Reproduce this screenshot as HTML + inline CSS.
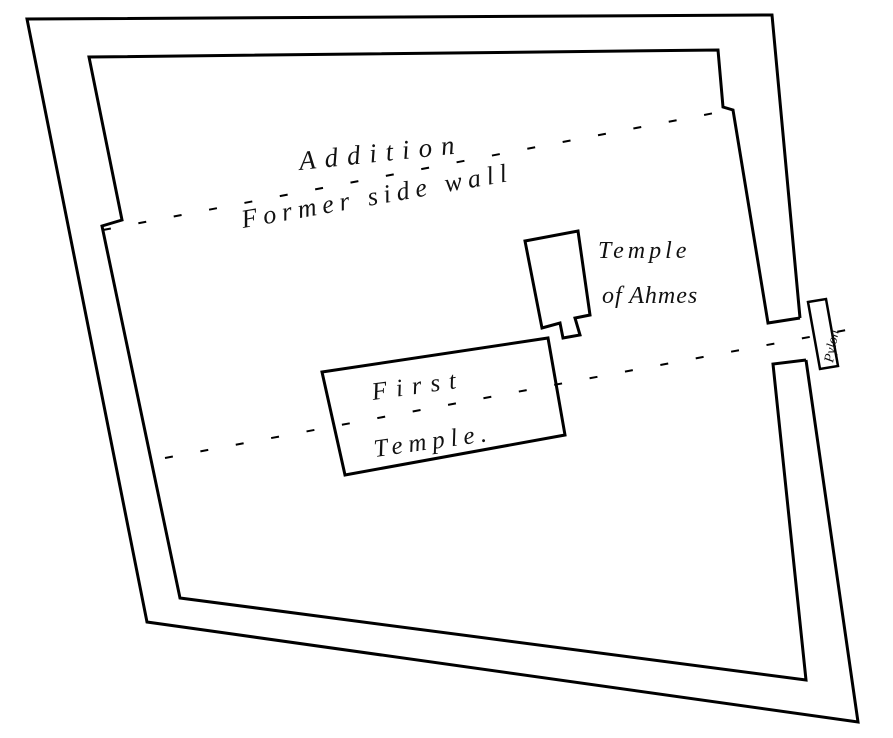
<!DOCTYPE html>
<html><head><style>
html,body{margin:0;padding:0;background:#fff;}
svg{display:block}
text{font-family:"Liberation Serif",serif;font-style:italic;fill:#111;}
</style></head><body>
<svg width="893" height="738" viewBox="0 0 893 738" xmlns="http://www.w3.org/2000/svg">
<g fill="none" stroke="#000" stroke-width="3" stroke-linejoin="miter">
<polyline points="800,318 772,15 27,19 147,622 858,722 806,360"/>
<polyline points="800,318 768,323 733,110 723,107 718,50 89,57 122,220 102,226 180,598 806,680 773,364 806,360"/>
<polygon points="525,241 578,231 590,315 575,318 580,335 563,338 560,323 542,328"/>
<polygon points="322,372 548,338 565,435 345,475"/>
<polygon points="808,302 826,299 838,366 820,369" stroke-width="2.5"/>
</g>
<g stroke="#000" stroke-width="2" stroke-dasharray="8,28" fill="none">
<line x1="103" y1="230" x2="730" y2="110"/>
<line x1="165" y1="458" x2="852" y2="329"/>
</g>
<text x="300" y="170" font-size="27" letter-spacing="9" transform="rotate(-6 300 170)">Addition</text>
<text x="243" y="228" font-size="26" letter-spacing="6" transform="rotate(-10 243 228)">Former side wall</text>
<text x="598" y="258" font-size="24" letter-spacing="4">Temple</text>
<text x="602" y="303" font-size="24" letter-spacing="1">of Ahmes</text>
<text x="373" y="400" font-size="25" letter-spacing="9" transform="rotate(-8 373 400)">First</text>
<text x="375" y="457" font-size="25" letter-spacing="6" transform="rotate(-8 375 457)">Temple.</text>
<text x="833" y="363" font-size="14" transform="rotate(-80 833 363)">Pylon</text>
</svg>
</body></html>
